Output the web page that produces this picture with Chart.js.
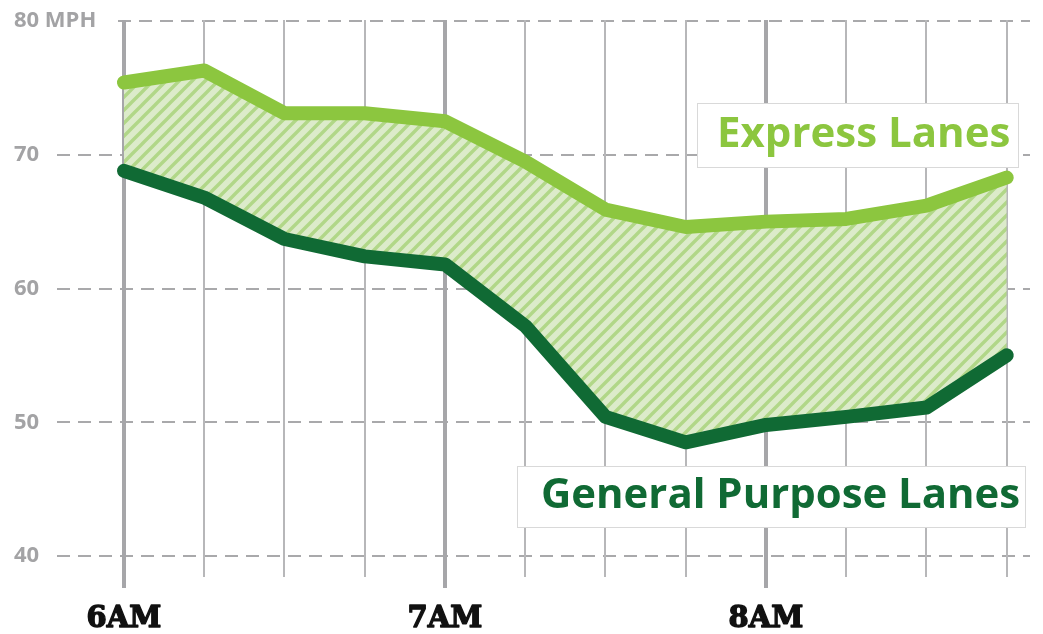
<!DOCTYPE html>
<html>
<head>
<meta charset="utf-8">
<script src="https://cdn.jsdelivr.net/npm/chart.js@4/dist/chart.umd.min.js"></script>
<style>
  html, body { margin: 0; padding: 0; background: #fff; }
  #wrap { width: 1043px; height: 634px; position: relative; }
</style>
</head>
<body>
<div id="wrap"><canvas id="speedChart"></canvas></div>
<script>
// minutes after 6AM, one point every 15 minutes
const timeMinutes = [0, 15, 30, 45, 60, 75, 90, 105, 120, 135, 150, 165];
const hourLabels = { 0: '6AM', 60: '7AM', 120: '8AM' };
const expressLanes = [75.4, 76.3, 73.1, 73.1, 72.5, 69.5, 65.9, 64.6, 65.0, 65.2, 66.2, 68.3];
const generalLanes = [68.8, 66.8, 63.7, 62.4, 61.8, 57.2, 50.4, 48.5, 49.8, 50.4, 51.1, 55.0];
const yTicks = [40, 50, 60, 70, 80];
const yTickLabels = ['40', '50', '60', '70', '80 MPH'];

function makeHatch() {
  const s = 13;
  const c = document.createElement('canvas');
  c.width = s;
  c.height = s;
  const g = c.getContext('2d');
  g.fillStyle = '#dcebca';
  g.fillRect(0, 0, s, s);
  g.strokeStyle = '#b1d788';
  g.lineWidth = 3.4;
  g.beginPath();
  g.moveTo(-2, s + 2); g.lineTo(s + 2, -2);
  g.moveTo(-3, 3); g.lineTo(3, -3);
  g.moveTo(s - 3, s + 3); g.lineTo(s + 3, s - 3);
  g.stroke();
  return g.createPattern(c, 'repeat');
}

const gridPlugin = {
  id: 'gridLines',
  beforeDraw(chart) {
    const { ctx, chartArea, scales } = chart;
    const x = scales.x, y = scales.y;
    ctx.save();
    // dashed horizontal lines
    ctx.strokeStyle = '#a9a9ab';
    ctx.lineWidth = 2;
    ctx.setLineDash([13, 8]);
    yTicks.forEach((v) => {
      const py = Math.round(y.getPixelForValue(v));
      const startX = v === 80 ? 118 : chartArea.left;
      ctx.beginPath();
      ctx.moveTo(startX, py);
      ctx.lineTo(chartArea.right, py);
      ctx.stroke();
    });
    ctx.setLineDash([]);
    // vertical lines, thicker on the hour
    const top = y.getPixelForValue(80) - 1;
    timeMinutes.forEach((m) => {
      const major = m % 60 === 0;
      const px = Math.round(x.getPixelForValue(m));
      ctx.strokeStyle = major ? '#a6a6a9' : '#b7b7b9';
      ctx.lineWidth = major ? 4 : 2;
      ctx.beginPath();
      ctx.moveTo(px, top);
      ctx.lineTo(px, chartArea.bottom + (major ? 32 : 21));
      ctx.stroke();
    });
    // y labels
    ctx.fillStyle = '#a3a3a5';
    ctx.font = 'bold 22px "Open Sans"';
    ctx.textAlign = 'left';
    ctx.textBaseline = 'middle';
    yTicks.forEach((v, i) => {
      ctx.fillText(yTickLabels[i], 14, y.getPixelForValue(v));
    });
    // x labels, stroked a little for the heavy slab look
    ctx.fillStyle = '#111';
    ctx.strokeStyle = '#111';
    ctx.lineWidth = 1.4;
    ctx.lineJoin = 'round';
    ctx.font = 'bold 29px "DejaVu Serif"';
    ctx.textAlign = 'center';
    ctx.textBaseline = 'alphabetic';
    timeMinutes.forEach((m) => {
      if (!hourLabels[m]) return;
      const px = x.getPixelForValue(m);
      ctx.fillText(hourLabels[m], px, 627);
      ctx.strokeText(hourLabels[m], px, 627);
    });
    ctx.restore();
  },
  afterDraw(chart) {
    const ctx = chart.ctx;
    const drawBox = (text, color, bx, by, bw, bh, tx, ty, tw) => {
      ctx.save();
      ctx.fillStyle = '#fff';
      ctx.fillRect(bx, by, bw, bh);
      ctx.strokeStyle = '#d9d9d9';
      ctx.lineWidth = 1;
      ctx.strokeRect(bx + 0.5, by + 0.5, bw, bh);
      ctx.font = 'bold 40px "Open Sans"';
      const size = 40 * tw / ctx.measureText(text).width;
      ctx.font = 'bold ' + size.toFixed(1) + 'px "Open Sans"';
      ctx.fillStyle = color;
      ctx.textBaseline = 'alphabetic';
      ctx.fillText(text, tx, ty);
      ctx.restore();
    };
    drawBox('Express Lanes', '#8cc63f', 697, 103, 321, 64, 717, 147, 293);
    drawBox('General Purpose Lanes', '#106a34', 517, 466, 508, 61, 541, 508, 479);
  }
};

new Chart(document.getElementById('speedChart'), {
  type: 'line',
  data: {
    labels: timeMinutes,
    datasets: [
      {
        label: 'Express Lanes',
        data: expressLanes,
        borderColor: '#8cc63f',
        borderWidth: 14,
        borderCapStyle: 'round',
        borderJoinStyle: 'round',
        pointRadius: 0,
        fill: '+1',
        backgroundColor: makeHatch(),
        tension: 0
      },
      {
        label: 'General Purpose Lanes',
        data: generalLanes,
        borderColor: '#106a34',
        borderWidth: 14,
        borderCapStyle: 'round',
        borderJoinStyle: 'round',
        pointRadius: 0,
        fill: false,
        tension: 0
      }
    ]
  },
  options: {
    responsive: true,
    maintainAspectRatio: false,
    animation: false,
    layout: { padding: { left: 14, right: 13, top: 21, bottom: 0 } },
    plugins: {
      legend: { display: false },
      tooltip: { enabled: false },
      filler: { drawTime: 'beforeDatasetsDraw' }
    },
    scales: {
      x: {
        type: 'linear',
        min: -12.52,
        max: 169.35,
        grid: { display: false },
        border: { display: false },
        ticks: { display: false },
        afterFit: (scale) => { scale.height = 78; }
      },
      y: {
        min: 40,
        max: 80,
        grid: { display: false },
        border: { display: false },
        ticks: { display: false },
        afterFit: (scale) => { scale.width = 43; }
      }
    }
  },
  plugins: [gridPlugin]
});
</script>
</body>
</html>
